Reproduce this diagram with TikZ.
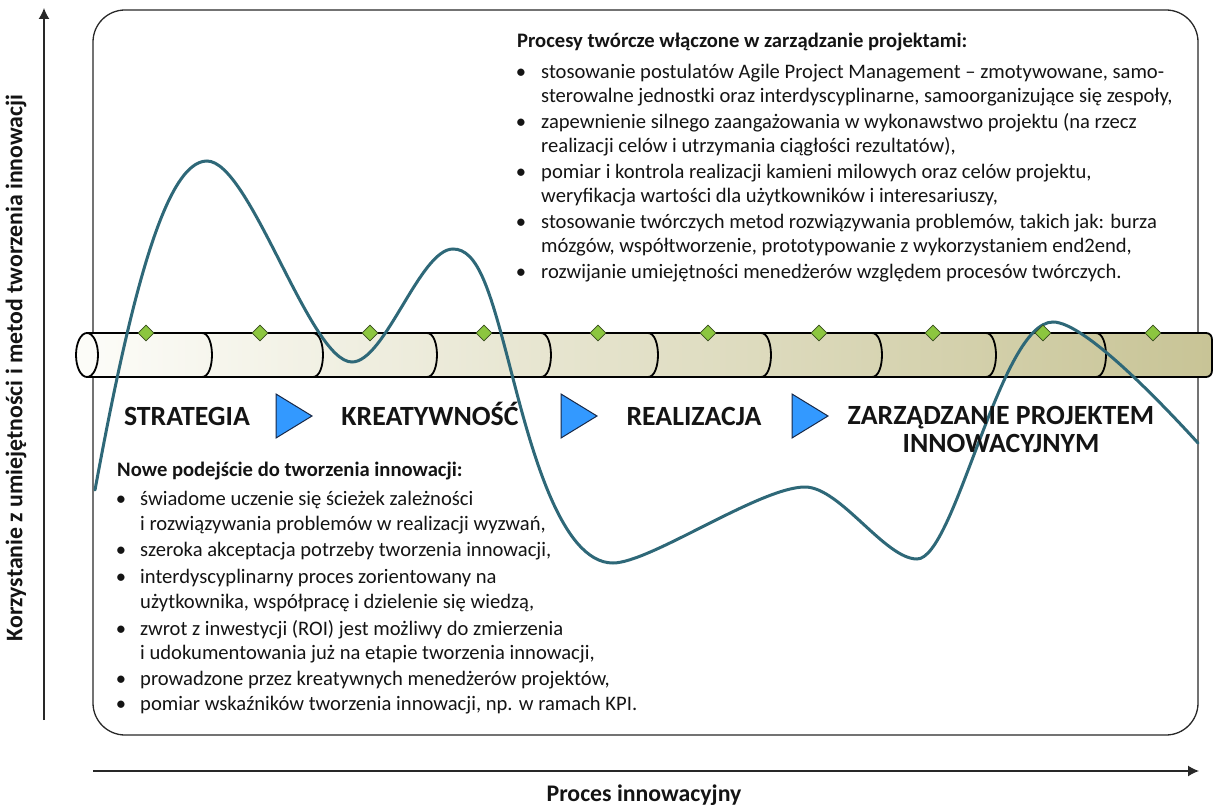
\documentclass[tikz,border=0pt]{standalone}
\usepackage{fontspec}
\setmainfont{Carlito}
\usetikzlibrary{arrows.meta,shapes.geometric}
\definecolor{curvecol}{RGB}{46,104,120}
\definecolor{triblue}{RGB}{51,153,255}
\definecolor{tridark}{RGB}{25,40,70}
\definecolor{milegreen}{RGB}{140,198,63}
\definecolor{miledark}{RGB}{55,75,30}
\definecolor{tubeL}{RGB}{252,252,248}
\definecolor{tubeR}{RGB}{200,196,150}
\definecolor{textcol}{RGB}{20,20,20}
\definecolor{framecol}{RGB}{40,40,40}
\tikzset{
  bodytxt/.style={anchor=base west, inner sep=0, text=textcol, font=\fontsize{20.6}{25}\selectfont},
  headtxt/.style={anchor=base west, inner sep=0, text=textcol, font=\fontsize{20.6}{25}\selectfont\bfseries},
  bul/.style={anchor=base, inner sep=0, text=textcol, font=\fontsize{20.6}{25}\selectfont},
  stagetxt/.style={anchor=base, inner sep=0, text=textcol, font=\fontsize{27.8}{29}\selectfont\bfseries},
  axistxt/.style={inner sep=0, text=textcol, font=\fontsize{23.8}{26}\selectfont\bfseries},
  tri/.style={fill=triblue, draw=tridark, line width=1pt, line join=miter},
  mile/.style={diamond, fill=milegreen, draw=miledark, line width=0.8pt, minimum width=16pt, minimum height=16pt, inner sep=0},
  tubeline/.style={draw=black, line width=1.8pt},
  curveline/.style={draw=curvecol, line width=3pt, line cap=round},
  axisline/.style={draw=framecol, line width=1.4pt, -{Latex[length=11pt,width=11pt]}},
}
\begin{document}
\begin{tikzpicture}[x=1pt,y=-1pt]
\useasboundingbox (0,0) rectangle (1213,805);
% frame
\draw[draw=framecol, line width=1.3pt, rounded corners=32pt] (93,10) rectangle (1198,735);
% axes
\coordinate (ya0) at (44,720);
\coordinate (ya1) at (44,8);
\coordinate (xa0) at (93,771);
\coordinate (xa1) at (1199,771);
\draw[axisline] (ya0) -- (ya1);
\draw[axisline] (xa0) -- (xa1);
\node[axistxt, rotate=90] (ylab) at (16,368) {Korzystanie z umiejętności i metod tworzenia innowacji};
\node[axistxt, anchor=base] (xlab) at (644,801) {Proces innowacyjny};
% tube
\shade[left color=tubeL, right color=tubeR] (87,333) -- (1206,333) .. controls (1210,333) and (1212,336) .. (1212,340) -- (1212,370) .. controls (1212,374) and (1210,377) .. (1206,377) -- (87,377) -- cycle;
\draw[tubeline, line join=round] (87,333) -- (1206,333) .. controls (1210,333) and (1212,336) .. (1212,340) -- (1212,370) .. controls (1212,374) and (1210,377) .. (1206,377) -- (87,377);
\foreach \xr in {212,323,437,551,658,771,882,996,1106}{
  \draw[tubeline] (\xr-10,333) .. controls (\xr+3.3,333) and (\xr+3.3,377) .. (\xr-10,377);
}
\draw[tubeline, fill=tubeL] (87,355) ellipse [x radius=11, y radius=22];
% curve
\draw[curveline] (95,490) .. controls (130,300) and (165,161) .. (207,161)
  .. controls (250,161) and (310,362) .. (352,362)
  .. controls (385,362) and (420,249) .. (453,249)
  .. controls (478,249) and (490,290) .. (510,367)
  .. controls (530,444) and (560,563) .. (613,563)
  .. controls (650,563) and (760,487) .. (805,487)
  .. controls (840,487) and (885,559) .. (917,559)
  .. controls (955,559) and (1000,322) .. (1053,322)
  .. controls (1085,322) and (1165,407) .. (1198,443);
% milestones
\foreach \xm [count=\i] in {146,260,370,484,598,708,819,933,1043,1153}{
  \node[mile] (m\i) at (\xm,333) {};
}
% stage arrows
\draw[tri] (276,394) -- (312,416) -- (276,438) -- cycle;
\draw[tri] (561,394) -- (597,416) -- (561,438) -- cycle;
\draw[tri] (792,394) -- (828,416) -- (792,438) -- cycle;
% stage labels
\node[stagetxt] (s1) at (187,425) {STRATEGIA};
\node[stagetxt] (s2) at (430,425) {KREATYWNOŚĆ};
\node[stagetxt] (s3) at (694,425) {REALIZACJA};
\node[stagetxt] (s4) at (1001,424) {ZARZĄDZANIE PROJEKTEM};
\node[stagetxt] (s5) at (1001,452) {INNOWACYJNYM};
% top text
\node[headtxt] (t0) at (517,48) {Procesy twórcze włączone w zarządzanie projektami:};
\node[bul] (tb1) at (521,79) {•};
\node[bodytxt] (t1) at (541,79) {stosowanie postulatów Agile Project Management – zmotywowane, samo-};
\node[bodytxt] (t2) at (541,103) {sterowalne jednostki oraz interdyscyplinarne, samoorganizujące się zespoły,};
\node[bul] (tb3) at (521,129) {•};
\node[bodytxt] (t3) at (541,129) {zapewnienie silnego zaangażowania w wykonawstwo projektu (na rzecz};
\node[bodytxt] (t4) at (541,153) {realizacji celów i utrzymania ciągłości rezultatów),};
\node[bul] (tb5) at (521,179) {•};
\node[bodytxt] (t5) at (541,179) {pomiar i kontrola realizacji kamieni milowych oraz celów projektu,};
\node[bodytxt] (t6) at (541,203) {weryfikacja wartości dla użytkowników i interesariuszy,};
\node[bul] (tb7) at (521,229) {•};
\node[bodytxt] (t7) at (541,229) {stosowanie twórczych metod rozwiązywania problemów, takich jak: burza};
\node[bodytxt] (t8) at (541,253) {mózgów, współtworzenie, prototypowanie z wykorzystaniem end2end,};
\node[bul] (tb9) at (521,279) {•};
\node[bodytxt] (t9) at (541,279) {rozwijanie umiejętności menedżerów względem procesów twórczych.};
% bottom text
\node[headtxt] (b0) at (117,476) {Nowe podejście do tworzenia innowacji:};
\node[bul] (bb1) at (121,505) {•};
\node[bodytxt] (b1) at (140,505) {świadome uczenie się ścieżek zależności};
\node[bodytxt] (b2) at (140,530) {i rozwiązywania problemów w realizacji wyzwań,};
\node[bul] (bb3) at (121,556) {•};
\node[bodytxt] (b3) at (140,556) {szeroka akceptacja potrzeby tworzenia innowacji,};
\node[bul] (bb4) at (121,583) {•};
\node[bodytxt] (b4) at (140,583) {interdyscyplinarny proces zorientowany na};
\node[bodytxt] (b5) at (140,608) {użytkownika, współpracę i dzielenie się wiedzą,};
\node[bul] (bb6) at (121,635) {•};
\node[bodytxt] (b6) at (140,635) {zwrot z inwestycji (ROI) jest możliwy do zmierzenia};
\node[bodytxt] (b7) at (140,659) {i udokumentowania już na etapie tworzenia innowacji,};
\node[bul] (bb8) at (121,685) {•};
\node[bodytxt] (b8) at (140,685) {prowadzone przez kreatywnych menedżerów projektów,};
\node[bul] (bb9) at (121,710) {•};
\node[bodytxt] (b9) at (140,710) {pomiar wskaźników tworzenia innowacji, np. w ramach KPI.};
\end{tikzpicture}
\end{document}
